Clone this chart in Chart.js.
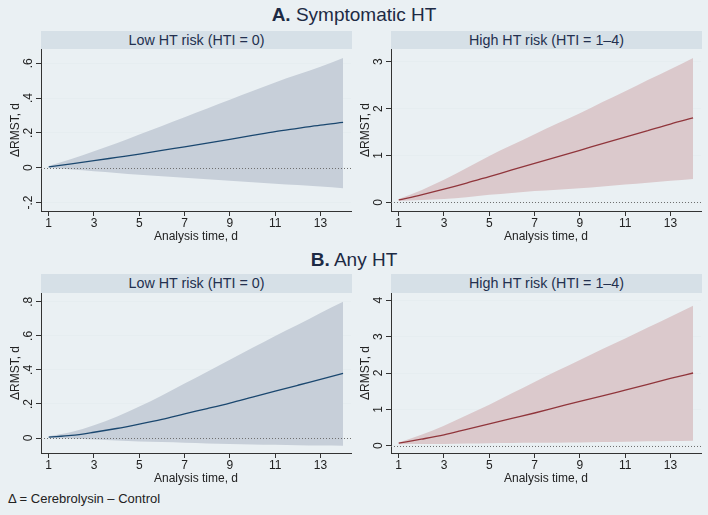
<!DOCTYPE html>
<html>
<head>
<meta charset="utf-8">
<script src="https://cdn.jsdelivr.net/npm/chart.js@4.4.1/dist/chart.umd.min.js"></script>
<style>
body { margin: 0; background: #eaf0f3; font-family: "Liberation Sans", Arial, sans-serif; }
#page { position: relative; width: 708px; height: 515px; overflow: hidden; }
.sec { position: absolute; left: 0; width: 708px; text-align: center; font-size: 19px; line-height: 20px; color: #1d2a44; }
.strip { position: absolute; width: 311px; height: 18px; line-height: 18px; background: #d6e0e7; text-align: center; font-size: 14.3px; color: #23304f; }
canvas { position: absolute; }
.note { position: absolute; left: 8px; top: 491px; font-size: 13px; color: #222; }
</style>
</head>
<body>
<div id="page">
  <div class="sec" style="top:5px"><b>A.</b> Symptomatic HT</div>
  <div class="strip" style="left:41px;top:31px">Low HT risk (HTI = 0)</div>
  <div class="strip" style="left:391px;top:31px">High HT risk (HTI = 1–4)</div>
  <canvas id="aLow" width="356" height="196" style="left:0;top:49px"></canvas>
  <canvas id="aHigh" width="356" height="196" style="left:350px;top:49px"></canvas>

  <div class="sec" style="top:250px"><b>B.</b> Any HT</div>
  <div class="strip" style="left:41px;top:274px;height:19px;line-height:19px">Low HT risk (HTI = 0)</div>
  <div class="strip" style="left:391px;top:274px;height:19px;line-height:19px">High HT risk (HTI = 1–4)</div>
  <canvas id="bLow" width="356" height="194" style="left:0;top:293px"></canvas>
  <canvas id="bHigh" width="356" height="194" style="left:350px;top:293px"></canvas>

  <div class="note">Δ = Cerebrolysin – Control</div>
</div>
<script>
// analysis time (days)
var days = [1, 2, 3, 4, 5, 6, 7, 8, 9, 10, 11, 12, 13, 14];
var xTicks = [1, 3, 5, 7, 9, 11, 13];

// A. Symptomatic HT, low risk
var aLowMean  = [0.005, 0.022, 0.04, 0.059, 0.078, 0.099, 0.12, 0.141, 0.163, 0.185, 0.207, 0.226, 0.245, 0.26];
var aLowUpper = [0.01, 0.05, 0.095, 0.14, 0.19, 0.24, 0.29, 0.34, 0.39, 0.44, 0.49, 0.535, 0.58, 0.63];
var aLowLower = [0.0, -0.01, -0.02, -0.03, -0.04, -0.049, -0.058, -0.067, -0.075, -0.084, -0.092, -0.1, -0.108, -0.118];
var aLowTicks = [-0.2, 0, 0.2, 0.4, 0.6];
var aLowLabels = ['-.2', '0', '.2', '.4', '.6'];

// A. Symptomatic HT, high risk
var aHighMean  = [0.05, 0.16, 0.28, 0.41, 0.55, 0.69, 0.83, 0.97, 1.11, 1.25, 1.39, 1.53, 1.67, 1.8];
var aHighUpper = [0.07, 0.26, 0.48, 0.73, 0.99, 1.22, 1.45, 1.68, 1.9, 2.14, 2.37, 2.61, 2.84, 3.08];
var aHighLower = [0.03, 0.05, 0.07, 0.11, 0.16, 0.2, 0.24, 0.27, 0.3, 0.34, 0.38, 0.42, 0.46, 0.5];
var aHighTicks = [0, 1, 2, 3];
var aHighLabels = ['0', '1', '2', '3'];

// B. Any HT, low risk
var bLowMean  = [0.005, 0.015, 0.034, 0.056, 0.082, 0.11, 0.142, 0.173, 0.205, 0.24, 0.275, 0.31, 0.345, 0.38];
var bLowUpper = [0.01, 0.035, 0.075, 0.125, 0.185, 0.25, 0.32, 0.39, 0.46, 0.53, 0.6, 0.665, 0.735, 0.8];
var bLowLower = [0.0, -0.003, -0.008, -0.014, -0.02, -0.024, -0.028, -0.032, -0.035, -0.038, -0.04, -0.042, -0.044, -0.045];
var bLowTicks = [0, 0.2, 0.4, 0.6, 0.8];
var bLowLabels = ['0', '.2', '.4', '.6', '.8'];

// B. Any HT, high risk
var bHighMean  = [0.07, 0.18, 0.3, 0.45, 0.6, 0.75, 0.9, 1.06, 1.22, 1.37, 1.53, 1.69, 1.85, 2.0];
var bHighUpper = [0.09, 0.3, 0.55, 0.84, 1.13, 1.44, 1.75, 2.06, 2.36, 2.66, 2.95, 3.25, 3.55, 3.85];
var bHighLower = [0.04, 0.045, 0.05, 0.06, 0.07, 0.075, 0.08, 0.085, 0.09, 0.1, 0.11, 0.12, 0.13, 0.14];
var bHighTicks = [0, 1, 2, 3, 4];
var bHighLabels = ['0', '1', '2', '3', '4'];

var NAVY = '#1a476f', NAVY_BAND = '#c7cfd9';
var MAROON = '#90353b', MAROON_BAND = '#dbc9cc';
var AXIS = '#333333';
var FONT = 'Liberation Sans, Arial, sans-serif';

function pts(arr) {
    return days.map(function (d, i) { return { x: d, y: arr[i] }; });
}

// horizontal dotted line at zero + rotated y tick labels
var stataBits = {
    id: 'stataBits',
    afterDatasetsDraw: function (chart) {
        var c = chart.ctx, a = chart.chartArea;
        var y0 = Math.round(chart.scales.y.getPixelForValue(0)) + 0.5;
        c.save();
        c.strokeStyle = '#6f6f6f';
        c.lineWidth = 1;
        c.setLineDash([1, 2]);
        c.beginPath();
        c.moveTo(a.left, y0);
        c.lineTo(a.right, y0);
        c.stroke();
        c.restore();
    },
    afterDraw: function (chart) {
        var c = chart.ctx, ys = chart.scales.y;
        var labels = chart.options.plugins.stataBits.labels;
        c.save();
        c.fillStyle = '#222';
        c.font = '12px ' + FONT;
        c.textAlign = 'center';
        c.textBaseline = 'middle';
        ys.ticks.forEach(function (t, i) {
            c.save();
            c.translate(29, ys.getPixelForValue(t.value));
            c.rotate(-Math.PI / 2);
            c.fillText(labels[i], 0, 0);
            c.restore();
        });
        c.restore();
    }
};

function makeChart(id, lower, mean, upper, yMin, yMax, yTicks, yLabels, lineColor, bandColor) {
    return new Chart(document.getElementById(id), {
        type: 'line',
        data: {
            datasets: [
                // first dataset is painted last, so the mean line sits on top of the band
                { data: pts(mean), borderColor: lineColor, borderWidth: 1.3, pointRadius: 0, fill: false },
                { data: pts(upper), borderWidth: 0, pointRadius: 0, fill: '+1', backgroundColor: bandColor },
                { data: pts(lower), borderWidth: 0, pointRadius: 0, fill: false }
            ]
        },
        options: {
            responsive: false,
            animation: false,
            elements: { line: { cubicInterpolationMode: 'monotone' } },
            layout: { padding: { left: 0, right: 5, top: 0, bottom: 0 } },
            plugins: {
                legend: { display: false },
                tooltip: { enabled: false },
                stataBits: { labels: yLabels }
            },
            scales: {
                x: {
                    type: 'linear',
                    min: 0.66,
                    max: 14.35,
                    afterBuildTicks: function (s) { s.ticks = xTicks.map(function (v) { return { value: v }; }); },
                    afterFit: function (s) { s.height = 34; },
                    ticks: { color: '#222', font: { family: FONT, size: 12 }, padding: 0, maxRotation: 0 },
                    grid: { drawOnChartArea: false, tickLength: 5, tickColor: AXIS },
                    border: { color: AXIS, width: 1 },
                    title: { display: true, text: 'Analysis time, d', color: '#222',
                             font: { family: FONT, size: 12 }, padding: { top: 0, bottom: 1 } }
                },
                y: {
                    min: yMin,
                    max: yMax,
                    afterBuildTicks: function (s) { s.ticks = yTicks.map(function (v) { return { value: v }; }); },
                    afterFit: function (s) { s.width = 41; },
                    ticks: { display: false },
                    grid: { color: '#e6edf0', tickLength: 5, tickColor: AXIS },
                    border: { color: AXIS, width: 1 },
                    title: { display: true, text: 'ΔRMST, d', color: '#222',
                             font: { family: FONT, size: 12 }, padding: { top: 8, bottom: 0 } }
                }
            }
        },
        plugins: [stataBits]
    });
}

makeChart('aLow', aLowLower, aLowMean, aLowUpper, -0.249, 0.682, aLowTicks, aLowLabels, NAVY, NAVY_BAND);
makeChart('aHigh', aHighLower, aHighMean, aHighUpper, -0.185, 3.27, aHighTicks, aHighLabels, MAROON, MAROON_BAND);
makeChart('bLow', bLowLower, bLowMean, bLowUpper, -0.088, 0.852, bLowTicks, bLowLabels, NAVY, NAVY_BAND);
makeChart('bHigh', bHighLower, bHighMean, bHighUpper, -0.2, 4.2, bHighTicks, bHighLabels, MAROON, MAROON_BAND);
</script>
</body>
</html>
